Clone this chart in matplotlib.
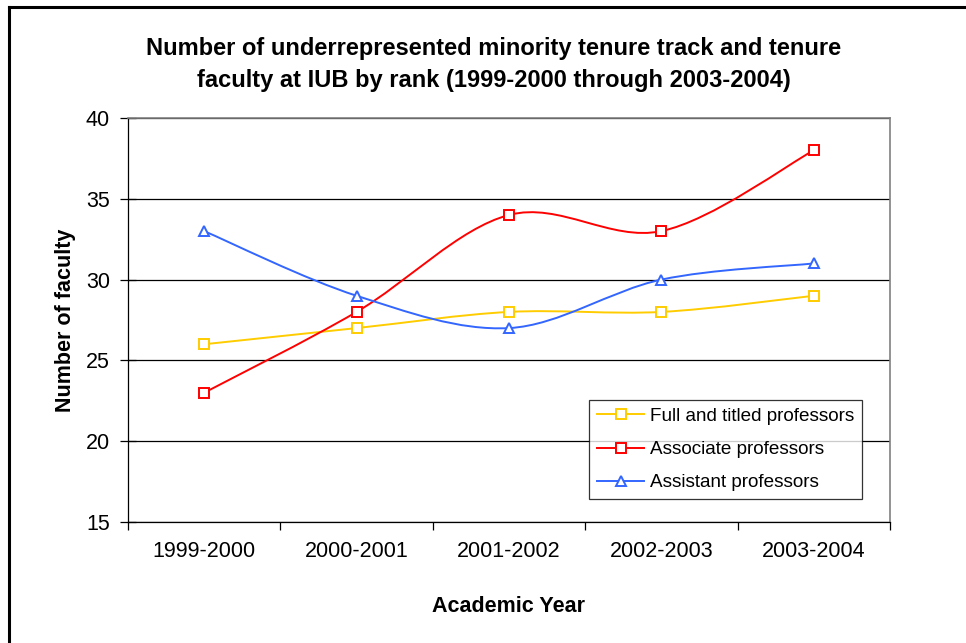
import matplotlib.pyplot as plt
import numpy as np
from matplotlib.path import Path
from matplotlib.patches import PathPatch
from matplotlib.lines import Line2D

plt.rcParams["font.family"] = ["Liberation Sans", "DejaVu Sans"]

years = ["1999-2000", "2000-2001", "2001-2002", "2002-2003", "2003-2004"]
full_titled = [26, 27, 28, 28, 29]
associate = [23, 28, 34, 33, 38]
assistant = [33, 29, 27, 30, 31]

series = [
    ("Full and titled professors", full_titled, "#FFCC00", "s"),
    ("Associate professors", associate, "#FF0000", "s"),
    ("Assistant professors", assistant, "#3366FF", "^"),
]


def smooth_path(x, y):
    # Excel-like smoothed line: Catmull-Rom segments as cubic Bezier
    pts = np.column_stack([x, y]).astype(float)
    n = len(pts)
    verts = [pts[0]]
    codes = [Path.MOVETO]
    for i in range(n - 1):
        p0 = pts[max(i - 1, 0)]
        p1 = pts[i]
        p2 = pts[i + 1]
        p3 = pts[min(i + 2, n - 1)]
        c1 = p1 + (p2 - p0) / 6.0
        c2 = p2 - (p3 - p1) / 6.0
        verts += [c1, c2, p2]
        codes += [Path.CURVE4] * 3
    return Path(verts, codes)


fig = plt.figure(figsize=(9.66, 6.43), dpi=100)
ax = fig.add_axes([128 / 966, 1 - 522 / 643, (890 - 128) / 966, (522 - 118) / 643])

x = np.arange(len(years))
handles = []
for name, vals, color, marker in series:
    patch = PathPatch(smooth_path(x, vals), facecolor="none", edgecolor=color, lw=1.4, zorder=3)
    ax.add_patch(patch)
    ax.plot(x, vals, linestyle="none", marker=marker, markersize=7, markerfacecolor="white",
            markeredgecolor=color, markeredgewidth=1.4, zorder=4)
    handles.append(Line2D([], [], color=color, lw=1.4, marker=marker, markersize=7,
                          markerfacecolor="white", markeredgecolor=color, markeredgewidth=1.4))

ax.set_xlim(-0.5, len(years) - 0.5)
ax.set_ylim(15, 40)
ax.set_yticks([15, 20, 25, 30, 35, 40])
ax.yaxis.grid(True, color="black", lw=0.9)
ax.set_axisbelow(True)

ax.set_xticks(x)
ax.set_xticklabels(years, fontsize=15.5)
ax.set_xticks(np.arange(-0.5, len(years)), minor=True)
ax.tick_params(axis="x", which="major", length=0, pad=14)
ax.tick_params(axis="x", which="minor", direction="out", length=6, width=0.9)
ax.tick_params(axis="y", direction="inout", length=12, width=0.9, labelsize=15.5, pad=7)

for side in ["top", "right"]:
    ax.spines[side].set_color("#808080")
    ax.spines[side].set_linewidth(1.2)
for side in ["left", "bottom"]:
    ax.spines[side].set_color("black")
    ax.spines[side].set_linewidth(0.9)

ax.set_xlabel("Academic Year", fontsize=15.5, fontweight="bold", labelpad=24)
ax.set_ylabel("Number of faculty", fontsize=15.5, fontweight="bold", labelpad=7)

fig.text(0.5 * (148 + 840) / 966, 1 - 64.5 / 643,
         "Number of underrepresented minority tenure track and tenure\n"
         "faculty at IUB by rank (1999-2000 through 2003-2004)",
         ha="center", va="center", fontsize=17, fontweight="bold", linespacing=1.5)

leg = ax.legend(handles, [s[0] for s in series], loc="lower right",
                bbox_to_anchor=((862 - 128) / (890 - 128), (522 - 499) / (522 - 118)),
                frameon=True, fancybox=False, fontsize=13.6, handlelength=2.5,
                borderpad=0.4, labelspacing=0.85, handletextpad=0.32, borderaxespad=0)
leg.get_frame().set_edgecolor("black")
leg.get_frame().set_linewidth(0.9)

# outer chart frame (only left/top visible in the crop)
fig.add_artist(Line2D([8.5 / 966, 8.5 / 966], [0, 1 - 7 / 643], transform=fig.transFigure,
                      color="black", lw=2.2))
fig.add_artist(Line2D([8.5 / 966, 1], [1 - 7 / 643, 1 - 7 / 643], transform=fig.transFigure,
                      color="black", lw=2.2))

fig.savefig("out.png", dpi=100)
